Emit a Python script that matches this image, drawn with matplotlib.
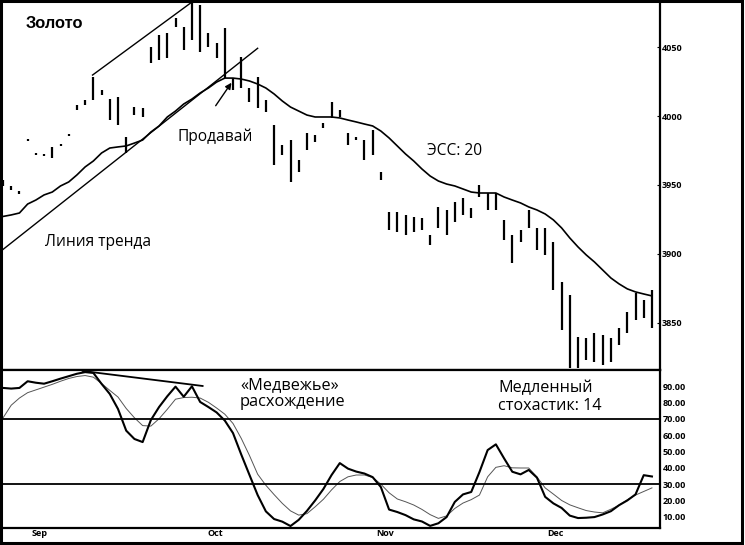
import matplotlib
matplotlib.use("Agg")
import matplotlib.pyplot as plt
from matplotlib.patches import Rectangle

plt.rcParams['font.family'] = ['Open Sans', 'DejaVu Sans']

# daily bars (trading day index 0..79)
high = [3953.6, 3949.3, 3945.7, 3983.4, 3973.2, 3972.5, 3977.6, 3979.7, 3987.0, 4008.0,
        4011.6, 4028.3, 4018.9, 4012.3, 4013.8, 3984.8, 4006.5, 4005.8, 4050.0, 4058.7,
        4060.1, 4071.0, 4064.5, 4081.9, 4080.4, 4060.1, 4052.9, 4063.8, 4027.5, 4042.8,
        4020.3, 4028.3, 4011.6, 3993.5, 3979.0, 3982.6, 3968.1, 3987.7, 3986.2, 3994.9,
        4010.2, 4004.3, 3987.7, 3984.8, 3982.6, 3989.9, 3959.4, 3930.5, 3930.5, 3928.3,
        3926.8, 3926.1, 3913.8, 3934.1, 3931.9, 3937.7, 3940.6, 3933.3, 3950.0, 3944.2,
        3944.2, 3924.7, 3913.8, 3917.4, 3931.9, 3918.9, 3918.9, 3908.7, 3879.7, 3870.3,
        3839.9, 3839.1, 3842.8, 3841.3, 3839.1, 3846.4, 3858.0, 3871.7, 3866.7, 3873.9]
low = [3949.3, 3946.4, 3943.5, 3981.9, 3971.7, 3971.0, 3969.6, 3978.3, 3985.5, 4004.3,
       4008.0, 4011.6, 4015.3, 3997.1, 3993.5, 3973.2, 4000.7, 3999.3, 4038.4, 4040.6,
       4042.0, 4064.5, 4047.8, 4055.1, 4046.4, 4050.0, 4042.0, 4027.5, 4018.9, 4020.3,
       4010.2, 4005.8, 4002.9, 3964.5, 3971.7, 3952.2, 3959.4, 3975.4, 3981.2, 3991.3,
       3998.6, 3999.3, 3979.0, 3982.6, 3968.1, 3971.7, 3953.6, 3917.4, 3916.0, 3913.8,
       3916.0, 3917.4, 3906.5, 3918.9, 3913.8, 3923.2, 3928.3, 3926.1, 3941.3, 3931.9,
       3931.9, 3910.2, 3893.5, 3908.7, 3918.9, 3902.9, 3899.3, 3873.9, 3844.9, 3817.4,
       3817.4, 3823.2, 3821.8, 3819.6, 3821.8, 3834.1, 3842.8, 3852.2, 3853.6, 3846.4]

# 20-day exponential moving average
ema20 = [3927.2, 3928.3, 3929.7, 3936.2, 3939.1, 3942.8, 3944.9, 3949.3, 3952.2, 3957.3,
         3963.1, 3967.4, 3973.2, 3976.8, 3977.6, 3978.3, 3980.4, 3982.6, 3988.4, 3992.8,
         3999.3, 4003.6, 4008.7, 4012.3, 4016.7, 4020.3, 4024.6, 4027.5, 4027.5, 4026.8,
         4025.4, 4023.2, 4020.3, 4016.0, 4010.9, 4006.5, 4003.6, 4000.7, 3999.3, 3999.3,
         3999.3, 3998.6, 3997.1, 3995.7, 3994.2, 3992.8, 3989.1, 3984.1, 3978.3, 3972.5,
         3967.4, 3961.6, 3956.5, 3952.9, 3950.7, 3949.3, 3947.1, 3944.9, 3944.2, 3944.2,
         3944.2, 3941.3, 3939.1, 3937.0, 3934.1, 3931.9, 3929.0, 3924.7, 3918.9, 3911.6,
         3905.1, 3899.3, 3894.2, 3888.4, 3882.6, 3878.3, 3874.7, 3872.5, 3871.0, 3869.6]

# slow stochastic 14: %K and %D
stoch_k = [89.0, 88.6, 89.0, 93.1, 92.2, 91.6, 93.1, 94.7, 96.2, 97.7,
           98.7, 98.2, 91.5, 85.3, 76.1, 62.8, 57.7, 55.8, 69.3, 77.3,
           83.9, 89.8, 83.6, 90.0, 80.4, 77.3, 74.0, 69.0, 61.3, 48.2,
           35.7, 23.3, 13.3, 8.6, 7.0, 4.3, 8.1, 13.6, 20.0, 27.0,
           35.6, 42.9, 39.5, 37.7, 36.5, 34.3, 28.2, 14.4, 12.9, 11.0,
           8.4, 7.1, 4.4, 6.0, 9.8, 19.1, 23.7, 25.2, 37.4, 50.9,
           54.4, 45.8, 37.6, 36.0, 38.7, 34.0, 22.2, 18.2, 15.4, 10.7,
           9.2, 9.4, 9.8, 11.4, 13.4, 17.1, 20.0, 23.7, 35.5, 34.7]
stoch_d = [70.6, 78.4, 82.8, 86.1, 87.8, 89.5, 91.2, 93.1, 94.8, 96.0,
           96.6, 95.6, 91.7, 87.5, 83.4, 76.4, 70.7, 65.9, 65.6, 70.1,
           75.9, 82.1, 83.1, 83.3, 82.8, 80.2, 76.7, 72.9, 67.2, 58.1,
           47.6, 36.1, 29.3, 23.6, 18.2, 13.6, 11.0, 11.9, 16.1, 20.7,
           26.5, 31.6, 34.5, 35.6, 35.6, 34.1, 30.0, 24.7, 20.9, 19.2,
           17.2, 14.5, 11.3, 9.0, 10.5, 15.1, 18.4, 20.5, 23.3, 34.5,
           40.3, 41.3, 40.0, 39.9, 39.9, 34.4, 27.7, 23.9, 20.0, 17.3,
           15.5, 13.8, 12.9, 12.4, 14.6, 17.1, 20.4, 23.3, 25.5, 27.7]

price_ticks = [3850, 3900, 3950, 4000, 4050]
stoch_ticks = [10, 20, 30, 40, 50, 60, 70, 80, 90]
month_pos = [4.5, 25.8, 46.5, 67.2]
month_labels = ['Sep', 'Oct', 'Nov', 'Dec']

# annotation anchors (day index, value)
trend_days = [-0.4, 31.0]
trend_prices = [3901.4, 4049.1]
channel_days = [10.9, 23.0]
channel_prices = [4029.7, 4082.6]
diverg_days = [9.7, 24.3]
diverg_vals = [99.4, 90.2]

days = list(range(len(high)))
xlim = (-0.365, 79.98)

fig = plt.figure(figsize=(7.45, 5.45), dpi=100)
W, H = 745.0, 545.0
ax = fig.add_axes([0, (H - 370) / H, 660 / W, 370 / H])
ax2 = fig.add_axes([0, (H - 528) / H, 660 / W, 158 / H])

ax.vlines(days, low, high, color='black', lw=1.6)
ax.plot(days, ema20, color='black', lw=1.2)
ax.plot(trend_days, trend_prices, color='black', lw=1.0)
ax.plot(channel_days, channel_prices, color='black', lw=1.0)
ax.annotate('', xy=(28.0, 4025.8), xytext=(25.7, 4005.8),
            arrowprops=dict(arrowstyle='-|>', color='black', lw=1.0, mutation_scale=9))
ax.set_xlim(*xlim)
ax.set_ylim(3815.9, 4084.1)
ax.yaxis.tick_right()
ax.set_yticks(price_ticks)
ax.set_yticklabels([str(t) for t in price_ticks], fontsize=6.5, fontweight='bold')
ax.tick_params(axis='y', length=2, pad=1, direction='in')
ax.set_xticks([])
for s in ['left', 'right', 'top', 'bottom']:
    ax.spines[s].set_linewidth(1.6)

ax.text(2.7, 4063.8, 'Золото', fontsize=11.8, fontweight='bold', va='baseline',
        family=['Liberation Sans', 'DejaVu Sans'])
ax.text(5.1, 3905.8, 'Линия тренда', fontsize=11.2, va='baseline')
ax.text(21.2, 3981.9, 'Продавай', fontsize=11.2, va='baseline')
ax.text(51.6, 3971.7, 'ЭСС: 20', fontsize=11.2, va='baseline')

ax2.plot(days, stoch_d, color='#555555', lw=0.7)
ax2.plot(days, stoch_k, color='black', lw=1.5)
ax2.axhline(70, color='black', lw=1.3)
ax2.axhline(30, color='black', lw=1.3)
ax2.plot(diverg_days, diverg_vals, color='black', lw=1.3)
ax2.set_xlim(*xlim)
ax2.set_ylim(3.1, 100)
ax2.yaxis.tick_right()
ax2.set_yticks(stoch_ticks)
ax2.set_yticklabels(['%.2f' % t for t in stoch_ticks], fontsize=6.5, fontweight='bold')
ax2.tick_params(axis='y', length=0, pad=2)
ax2.set_xticks(month_pos)
ax2.set_xticklabels(month_labels, fontsize=6.5, fontweight='bold')
ax2.tick_params(axis='x', length=0, pad=1)
for s in ['left', 'right', 'top', 'bottom']:
    ax2.spines[s].set_linewidth(1.6)

ax2.text(28.85, 88.3, '«Медвежье»', fontsize=11.8, va='baseline')
ax2.text(28.85, 77.9, 'расхождение', fontsize=11.8, va='baseline')
ax2.text(60.25, 86.5, 'Медленный', fontsize=11.6, va='baseline')
ax2.text(60.25, 75.5, 'стохастик: 14', fontsize=11.6, va='baseline')

fig.add_artist(Rectangle((0.002, 0.004), 0.994, 0.994, transform=fig.transFigure,
                         fill=False, lw=2.2, color='black'))

fig.savefig('out.png', dpi=100)
